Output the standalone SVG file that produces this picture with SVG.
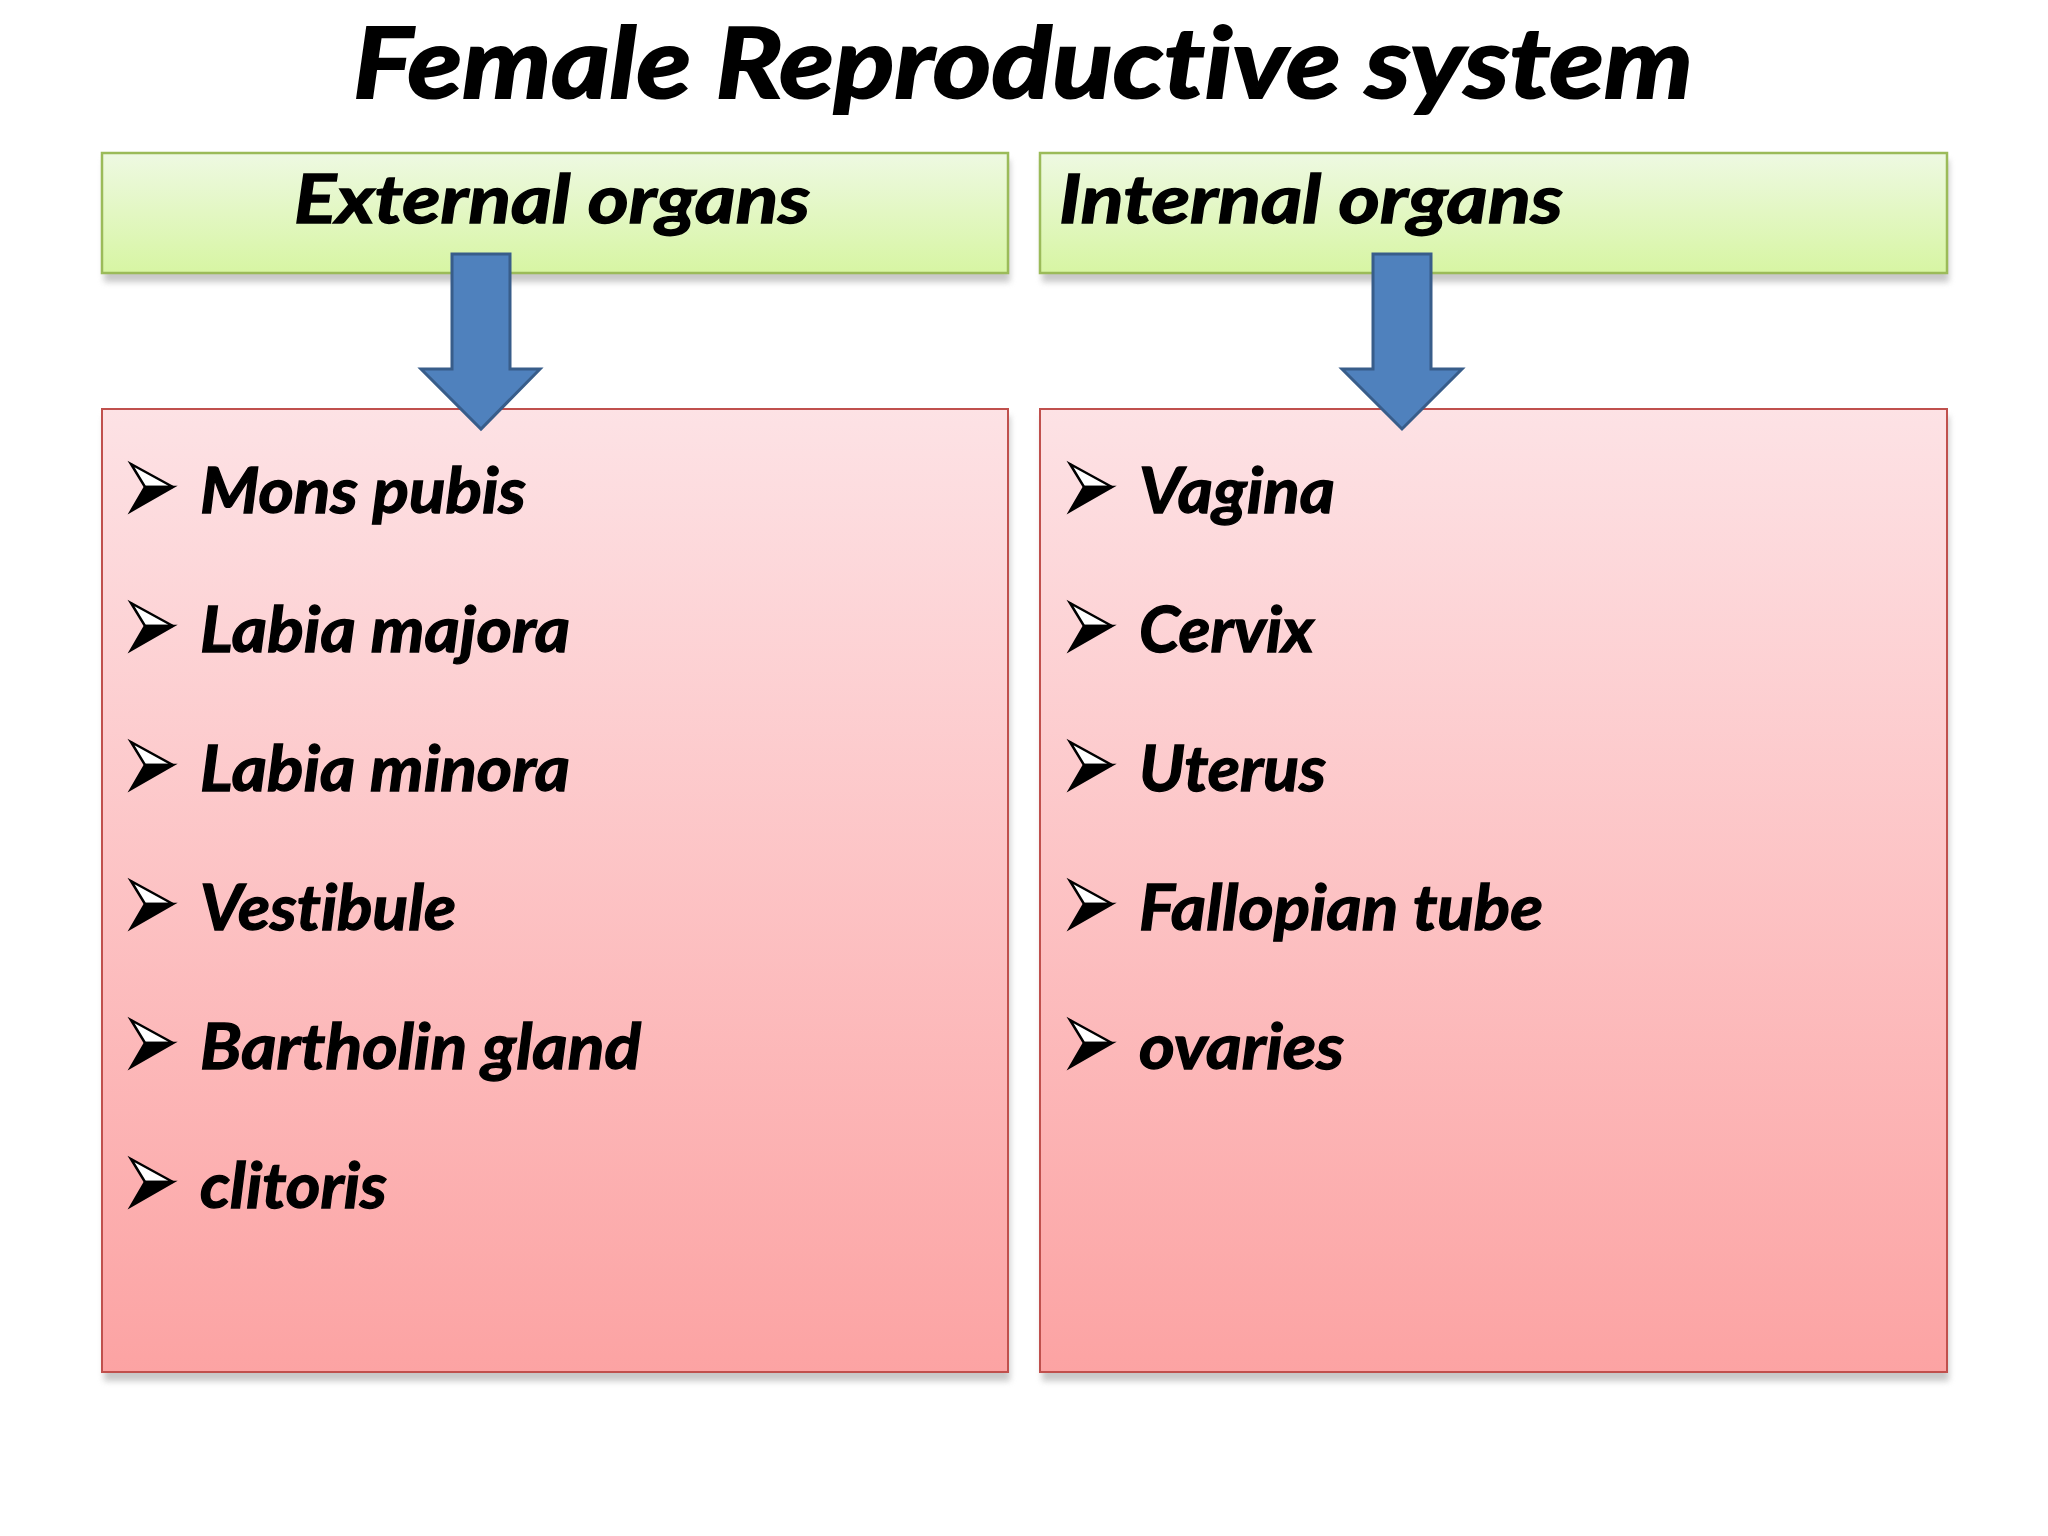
<svg xmlns="http://www.w3.org/2000/svg" width="2048" height="1536" viewBox="0 0 2048 1536">
<defs>
<linearGradient id="gGreen" x1="0" y1="0" x2="0" y2="1">
<stop offset="0" stop-color="#eef9e2"/>
<stop offset="1" stop-color="#d7f5a3"/>
</linearGradient>
<linearGradient id="gPink" x1="0" y1="0" x2="0" y2="1">
<stop offset="0" stop-color="#fde2e5"/>
<stop offset="1" stop-color="#fca3a3"/>
</linearGradient>
<filter id="sh" x="-5%" y="-5%" width="110%" height="120%">
<feGaussianBlur stdDeviation="3"/>
</filter>
<g id="bullet">
<polygon points="0,-49 42,-26 14,-26" fill="#ffffff" stroke="#000" stroke-width="2.5" stroke-linejoin="miter"/>
<polygon points="14,-26 42,-26 0,-2" fill="#000" stroke="#000" stroke-width="2.5"/>
</g>
</defs>
<style>
.t{font-family:Lato,"Open Sans","Liberation Sans",sans-serif;font-weight:bold;font-style:italic;fill:#000;stroke:#000;font-variant-ligatures:none;font-feature-settings:"liga" 0,"clig" 0}
.title{font-size:98px;stroke-width:2}
.hdr{font-size:67px;stroke-width:1.4}
.item{font-size:63px;stroke-width:1.3}
.grn{fill:url(#gGreen);stroke:#9bbb59;stroke-width:2.5}
.pnk{fill:url(#gPink);stroke:#c0504d;stroke-width:2}
.shd{fill:#9a9a9a;opacity:0.55;filter:url(#sh)}
.arr{fill:#4f81bd;stroke:#385d8a;stroke-width:3;stroke-linejoin:miter}
</style>
<rect width="2048" height="1536" fill="#ffffff"/>

<g id="title">
<text class="t title" x="353" y="98" textLength="1340" lengthAdjust="spacingAndGlyphs">Female Reproductive system</text>
</g>

<g id="external-header">
<rect class="shd" x="104" y="160" width="906" height="122"/>
<rect class="grn" x="102" y="153" width="906" height="120"/>
<text class="t hdr" x="294" y="223" textLength="516" lengthAdjust="spacingAndGlyphs">External organs</text>
</g>

<g id="internal-header">
<rect class="shd" x="1042" y="160" width="907" height="122"/>
<rect class="grn" x="1040" y="153" width="907" height="120"/>
<text class="t hdr" x="1059" y="223" textLength="504" lengthAdjust="spacingAndGlyphs">Internal organs</text>
</g>

<g id="external-list">
<rect class="shd" x="104" y="416" width="906" height="965"/>
<rect class="pnk" x="102" y="409" width="906" height="963"/>
<use href="#bullet" x="131" y="513"/>
<text class="t item" x="200" y="513" textLength="326" lengthAdjust="spacingAndGlyphs">Mons pubis</text>
<use href="#bullet" x="131" y="652"/>
<text class="t item" x="200" y="652" textLength="370" lengthAdjust="spacingAndGlyphs">Labia majora</text>
<use href="#bullet" x="131" y="791"/>
<text class="t item" x="200" y="791" textLength="370" lengthAdjust="spacingAndGlyphs">Labia minora</text>
<use href="#bullet" x="131" y="930"/>
<text class="t item" x="200" y="930" textLength="256" lengthAdjust="spacingAndGlyphs">Vestibule</text>
<use href="#bullet" x="131" y="1069"/>
<text class="t item" x="200" y="1069" textLength="441" lengthAdjust="spacingAndGlyphs">Bartholin gland</text>
<use href="#bullet" x="131" y="1208"/>
<text class="t item" x="200" y="1208" textLength="187" lengthAdjust="spacingAndGlyphs">clitoris</text>
</g>

<g id="internal-list">
<rect class="shd" x="1042" y="416" width="907" height="965"/>
<rect class="pnk" x="1040" y="409" width="907" height="963"/>
<use href="#bullet" x="1070" y="513"/>
<text class="t item" x="1139" y="513" textLength="196" lengthAdjust="spacingAndGlyphs">Vagina</text>
<use href="#bullet" x="1070" y="652"/>
<text class="t item" x="1139" y="652" textLength="175" lengthAdjust="spacingAndGlyphs">Cervix</text>
<use href="#bullet" x="1070" y="791"/>
<text class="t item" x="1139" y="791" textLength="187" lengthAdjust="spacingAndGlyphs">Uterus</text>
<use href="#bullet" x="1070" y="930"/>
<text class="t item" x="1139" y="930" textLength="404" lengthAdjust="spacingAndGlyphs">Fallopian tube</text>
<use href="#bullet" x="1070" y="1069"/>
<text class="t item" x="1139" y="1069" textLength="205" lengthAdjust="spacingAndGlyphs">ovaries</text>
</g>

<g id="connectors">
<polygon class="arr" points="452,254 510,254 510,369 540,369 481,429 421,369 452,369"/>
<polygon class="arr" points="1373,254 1431,254 1431,369 1462,369 1402,429 1342,369 1373,369"/>
</g>
</svg>
